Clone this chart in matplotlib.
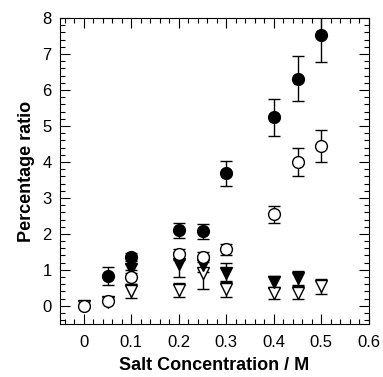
import numpy as np
import matplotlib
matplotlib.use('Agg')
import matplotlib.pyplot as plt
from matplotlib.ticker import MultipleLocator

plt.rcParams['font.family'] = ['Liberation Sans', 'DejaVu Sans']

# filled circles
x_fc = [0.05, 0.1, 0.2, 0.25, 0.3, 0.4, 0.45, 0.5]
y_fc = [0.83, 1.36, 2.1, 2.07, 3.68, 5.24, 6.32, 7.53]
e_fc = [0.25, 0.12, 0.2, 0.2, 0.36, 0.52, 0.62, 0.75]

# open circles
x_oc = [0.0, 0.05, 0.1, 0.2, 0.25, 0.3, 0.4, 0.45, 0.5]
y_oc = [0.0, 0.14, 0.8, 1.43, 1.36, 1.57, 2.54, 4.0, 4.45]
e_oc = [0.0, 0.0, 0.2, 0.15, 0.13, 0.15, 0.25, 0.4, 0.44]

# filled down-triangles
x_ft = [0.1, 0.2, 0.25, 0.3, 0.4, 0.45]
y_ft = [1.03, 1.15, 1.13, 0.92, 0.67, 0.77]
e_ft = [0.12, 0.36, 0.2, 0.26, 0.15, 0.2]

# open down-triangles
x_ot = [0.0, 0.05, 0.1, 0.2, 0.25, 0.3, 0.4, 0.45, 0.5]
y_ot = [0.0, 0.1, 0.42, 0.44, 0.92, 0.46, 0.35, 0.37, 0.54]
e_ot = [0.0, 0.0, 0.2, 0.2, 0.46, 0.22, 0.15, 0.18, 0.22]

fig = plt.figure(figsize=(3.83, 3.77), dpi=100)
ax = fig.add_axes([0.157, 0.141, 0.806, 0.811])

kw = dict(linestyle='none', ecolor='black', elinewidth=1, capsize=4,
          capthick=1, markersize=8.5, markeredgecolor='black', markeredgewidth=1)
ax.errorbar(x_ot, y_ot, yerr=e_ot, marker='v', markerfacecolor='white', **kw)
ax.errorbar(x_ft, y_ft, yerr=e_ft, marker='v', markerfacecolor='black', **kw)
ax.errorbar(x_oc, y_oc, yerr=e_oc, marker='o', markerfacecolor='white', **kw)
ax.errorbar(x_fc, y_fc, yerr=e_fc, marker='o', markerfacecolor='black', **kw)

ax.set_xlim(-0.05, 0.6)
ax.set_ylim(-0.5, 8)
ax.xaxis.set_minor_locator(MultipleLocator(0.02))
ax.yaxis.set_major_locator(MultipleLocator(1))
ax.yaxis.set_minor_locator(MultipleLocator(0.2))
ax.set_xticks([0, 0.1, 0.2, 0.3, 0.4, 0.5, 0.6])
ax.set_xticklabels(['0', '0.1', '0.2', '0.3', '0.4', '0.5', '0.6'])
ax.tick_params(which='both', direction='in', top=True, right=True, labelsize=12)
ax.tick_params(axis='x', pad=8)
ax.tick_params(axis='y', pad=6)
ax.tick_params(which='major', length=7)
ax.tick_params(which='minor', length=3.5, width=0.8)

ax.set_xlabel('Salt Concentration / M', fontsize=13, fontweight='bold', labelpad=5)
ax.set_ylabel('Percentage ratio', fontsize=13, fontweight='bold', labelpad=5)

fig.savefig('out.png', dpi=100)
